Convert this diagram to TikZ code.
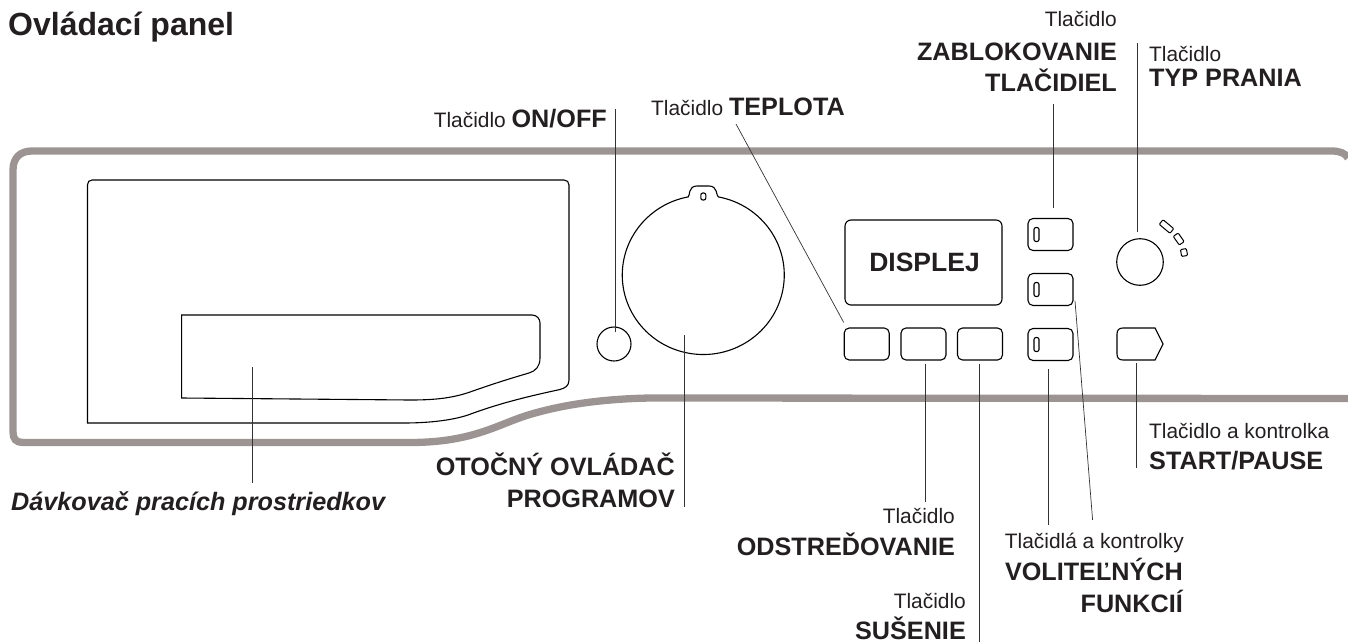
\documentclass[tikz,border=0pt]{standalone}
\usepackage{fontspec}
\setmainfont{Liberation Sans}
\usetikzlibrary{positioning}
\definecolor{panelgray}{HTML}{9C9493}
\definecolor{inktext}{HTML}{231F20}
\tikzset{
    plain/.style={font=\fontsize{20.9}{24}\selectfont, text=inktext, inner sep=0pt},
    strong/.style={font=\fontsize{25.2}{28}\selectfont\bfseries, text=inktext, inner sep=0pt},
    outline/.style={draw=black, line width=1.1pt},
    keybox/.style={outline, rounded corners=5pt, minimum height=32pt, inner sep=0pt},
    lamp/.style={outline, rounded corners=2pt, minimum width=5pt, minimum height=14pt, inner sep=0pt},
    leader/.style={draw=black!80, line width=0.7pt}
}

\begin{document}
\begin{tikzpicture}[x=1pt, y=-1pt]
    \useasboundingbox (0, 0) rectangle (1348, 642);

    % Panel edge
    \draw[panelgray, line width=7.3pt] (1348, 158) .. controls (1345, 153) and (1340, 151) .. (1331, 151)
        -- (32, 151) .. controls (20, 151) and (13, 158) .. (13, 170)
        -- (13, 432) .. controls (13, 439) and (16, 442.5) .. (23, 442.5)
        -- (410, 442.5) .. controls (470, 442.5) and (495, 426) .. (525, 416)
        .. controls (560, 405) and (600, 399) .. (650, 398) -- (1348, 398.5);

    % Detergent drawer
    \draw[outline] (404, 423) -- (87.5, 423) -- (87.5, 185)
        .. controls (87.5, 182) and (89, 180) .. (92, 180) -- (564, 180)
        .. controls (567, 180) and (569, 182) .. (569, 185) -- (569, 380)
        .. controls (569, 386) and (565, 388) .. (560, 389.5)
        .. controls (530, 396) and (500, 403) .. (468, 415)
        .. controls (450, 421) and (425, 423) .. (404, 423);
    \draw[outline] (181.6, 398) -- (181.6, 315) -- (532, 315)
        .. controls (537, 315) and (540, 319) .. (540, 323) -- (540, 358)
        .. controls (540, 366) and (536, 371) .. (529, 373)
        .. controls (505, 380) and (490, 385) .. (470, 392)
        .. controls (450, 399) and (430, 400) .. (410, 400) -- cycle;

    % Power button and program dial
    \node[outline, circle, minimum size=34pt, inner sep=0pt] (onoff) at (614, 344) {};
    \draw[outline] (718.3, 196.9) arc[start angle=79.3, end angle=-259.3, x radius=81pt, y radius=79.5pt]
        .. controls (690, 196) and (688, 186) .. (697, 186) -- (709, 186)
        .. controls (718, 186) and (716, 196) .. (718.3, 196.9);
    \node[outline, rounded corners=2pt, minimum width=5pt, minimum height=7pt, inner sep=0pt] (dialmark) at (703.3, 196.5) {};

    % Display
    \node[outline, rounded corners=6pt, minimum width=157pt, minimum height=85pt, inner sep=0pt] (display) at (923.5, 262.5) {};
    \node[font=\fontsize{26.5}{30}\selectfont\bfseries, text=inktext, inner sep=0pt] (displaytext) at (924.5, 262) {DISPLEJ};

    % Keys under the display
    \foreach \name/\x in {keytemp/866.7, keyspin/923.5, keydry/980} {
        \node[keybox, minimum width=45pt] (\name) at (\x, 344) {};
    }

    % Option keys with lamps
    \foreach \name/\y in {keylock/234.5, keyopt/289.5, keyextra/344.5} {
        \node[keybox, minimum width=45pt] (\name) at (1050.5, \y) {};
        \node[lamp] (\name lamp) at (1036.5, \y) {};
    }

    % Wash type knob
    \node[outline, circle, minimum size=46.6pt, inner sep=0pt] (knob) at (1140, 262) {};
    \foreach \name/\x/\y/\len/\ang in {marka/1166.5/226.5/14/-40, markb/1178.7/239/10.5/-55, markc/1184/252.5/7/-80} {
        \node[outline, line width=1pt, rounded corners=1pt, minimum width=\len pt, minimum height=6pt, inner sep=0pt, rotate=\ang] (\name) at (\x, \y) {};
    }

    % Start key
    \node[inner sep=0pt, minimum width=46pt, minimum height=32pt] (keystart) at (1140, 344) {};
    \draw[outline] (1155, 328) -- (1163, 344) -- (1155, 360) -- (1123, 360)
        .. controls (1119, 360) and (1117, 358) .. (1117, 354) -- (1117, 334)
        .. controls (1117, 330) and (1119, 328) .. (1123, 328) -- cycle;

    % Labels
    \node[font=\fontsize{32}{36}\selectfont\bfseries, text=inktext, inner sep=0pt, anchor=base west] (title) at (8, 36) {Ovládací panel};
    \node[plain, anchor=base east] (lblpower) at (607, 127) {Tlačidlo {\fontsize{25.2}{28}\selectfont\bfseries ON/OFF}};
    \node[plain, anchor=base west] (lbltemp) at (651, 115) {Tlačidlo {\fontsize{25.2}{28}\selectfont\bfseries TEPLOTA}};
    \node[plain, anchor=base east] (lbllocka) at (1117, 27) {Tlačidlo};
    \node[strong, anchor=base east] (lbllockb) at (1117, 60) {ZABLOKOVANIE};
    \node[strong, anchor=base east] (lbllockc) at (1117, 92) {TLAČIDIEL};
    \node[plain, anchor=base west] (lbltypea) at (1149, 62) {Tlačidlo};
    \node[strong, anchor=base west] (lbltypeb) at (1149, 86) {TYP PRANIA};
    \node[plain, anchor=base west] (lblstarta) at (1149, 438) {Tlačidlo a kontrolka};
    \node[strong, anchor=base west] (lblstartb) at (1149, 469) {START/PAUSE};
    \node[plain, anchor=base east] (lbloptsa) at (1184, 548) {Tlačidlá a kontrolky};
    \node[strong, anchor=base east] (lbloptsb) at (1183, 580) {VOLITEĽNÝCH};
    \node[strong, anchor=base east] (lbloptsc) at (1183, 612) {FUNKCIÍ};
    \node[plain, anchor=base east] (lblspina) at (955, 523) {Tlačidlo};
    \node[strong, anchor=base east] (lblspinb) at (955, 555) {ODSTREĎOVANIE};
    \node[plain, anchor=base east] (lbldrya) at (966, 608) {Tlačidlo};
    \node[strong, anchor=base east] (lbldryb) at (966, 639) {SUŠENIE};
    \node[strong, anchor=base east] (lbldiala) at (675, 475) {OTOČNÝ OVLÁDAČ};
    \node[strong, anchor=base east] (lbldialb) at (675, 507) {PROGRAMOV};
    \node[strong, font=\fontsize{25.2}{28}\selectfont\bfseries\itshape, anchor=base west] (lbldrawer) at (11, 510) {Dávkovač pracích prostriedkov};

    % Leader ends
    \coordinate (tippower) at (615.7, 109);
    \coordinate (tiptemp) at (736, 124);
    \coordinate (tiplock) at (1053, 104);
    \coordinate (tiptype) at (1137, 43);
    \coordinate (tipstart) at (1136, 468);
    \coordinate (tipextra) at (1048, 525);
    \coordinate (tipopt) at (1092.6, 520);
    \coordinate (tipspin) at (925, 502);
    \coordinate (tipdry) at (979, 642);
    \coordinate (tipdial) at (684, 507);
    \coordinate (tipdrawer) at (252.5, 483);
    \coordinate (baseopt) at (1075, 301);
    \coordinate (basedial) at (684, 335);
    \coordinate (basedrawer) at (252.5, 367);

    % Leaders
    \draw[leader] ([xshift=1.7pt, yshift=-6pt]onoff.north) -- (tippower);
    \draw[leader] ([xshift=-23pt, yshift=5pt]keytemp.north) -- (tiptemp);
    \draw[leader] ([xshift=2.5pt, yshift=10pt]keylock.north) -- (tiplock);
    \draw[leader] ([xshift=-3pt, yshift=6pt]knob.north) -- (tiptype);
    \draw[leader] ([xshift=-4pt, yshift=-3pt]keystart.south) -- (tipstart);
    \draw[leader] ([xshift=-2.5pt, yshift=-8pt]keyextra.south) -- (tipextra);
    \draw[leader] (baseopt) -- (tipopt);
    \draw[leader] ([xshift=1.5pt, yshift=-3pt]keyspin.south) -- (tipspin);
    \draw[leader] ([xshift=-1pt, yshift=-3pt]keydry.south) -- (tipdry);
    \draw[leader] (basedial) -- (tipdial);
    \draw[leader] (basedrawer) -- (tipdrawer);
\end{tikzpicture}
\end{document}
